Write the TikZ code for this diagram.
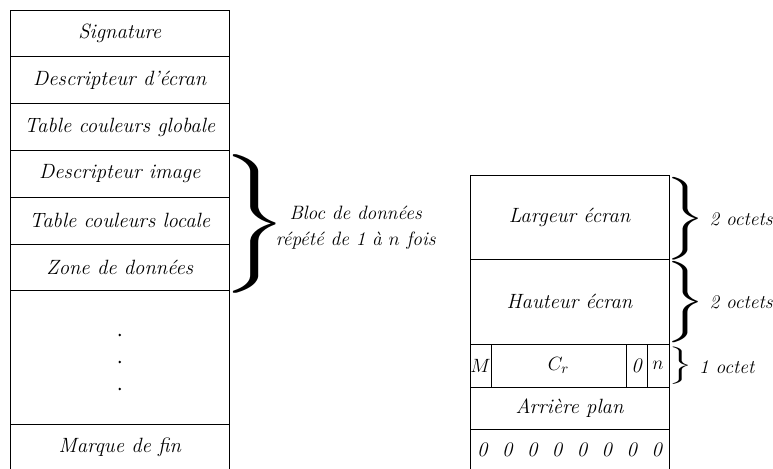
\documentclass[tikz,border=0pt]{standalone}
\usepackage{amsmath}
\usepackage{fontspec}
\usepackage{graphicx}
\usepackage{tikz}
\usetikzlibrary{positioning}
\usetikzlibrary{calc}

\begin{document}
\begin{tikzpicture}[
            x = 0.75pt, y = -0.75pt, % one unit = one pixel
            node distance = 0pt, % fields touch each other
            semithick % line style
        ]

        \tikzstyle{champ}=[
            draw,
            inner sep = 0pt,
            outer sep = 0pt,
            minimum width = 164.6pt,
            minimum height = 35.1pt,
            font = \fontsize{15.5}{19}\selectfont\itshape
        ]
        \tikzstyle{accolade}=[inner sep = 0pt, anchor = west]
        \tikzstyle{legende}=[inner sep = 0pt, anchor = west, align = center,
            font = \fontsize{14.5}{19.5}\selectfont\itshape]

        \useasboundingbox (0,0) rectangle (773,468);

        % file level
        \node[champ] (sig) at (119.75,33.4) {Signature};
        \node[champ] (desc) [below=of sig] {Descripteur d'écran};
        \node[champ] (tglob) [below=of desc] {Table couleurs globale};
        \node[champ] (dimg) [below=of tglob] {Descripteur image};
        \node[champ] (tloc) [below=of dimg] {Table couleurs locale};
        \node[champ] (zone) [below=of tloc] {Zone de données};
        \node[champ, minimum height = 99.9pt] (suite) [below=of zone] {};
        \node[champ] (fin) [below=of suite] {Marque de fin};

        \foreach \k in {-1,0,1}
            \fill ($(suite.center)+(0,{4.5+27*\k})$) circle (1.4);

        \node[accolade] (acc) at ($(dimg.north east)!0.5!(zone.south east)+(-8,3)$)
            {\resizebox*{49.8pt}{104pt}{$\Bigg\}$}};
        \node[legende, anchor = center] (bloc) at ($(acc.east)+(67,4)$)
            {Bloc de données\\répété de 1 à $n$ fois};

        % screen descriptor
        \node[champ, minimum width = 149.25pt, minimum height = 63pt] (larg) at (569.5,217) {Largeur écran};
        \node[champ, minimum width = 149.25pt, minimum height = 63.75pt] (haut) [below=of larg] {Hauteur écran};

        \node[champ, minimum width = 15.75pt, minimum height = 32.25pt, anchor = north west] (bitM) at (haut.south west) {$M$};
        \node[champ, minimum width = 101.25pt, minimum height = 32.25pt] (bitC) [right=of bitM] {$C_r$};
        \node[champ, minimum width = 15.75pt, minimum height = 32.25pt] (bitZ) [right=of bitC] {0};
        \node[champ, minimum width = 16.5pt, minimum height = 32.25pt] (bitN) [right=of bitZ] {$n$};

        \node[champ, minimum width = 149.25pt, minimum height = 31.5pt, anchor = north west] (fond) at (bitM.south west) {Arrière plan};
        \node[champ, minimum width = 149.25pt, minimum height = 31.5pt] (res) [below=of fond] {};
        \foreach \i in {0,...,7}
            \node[font = \fontsize{15.5}{19}\selectfont\itshape] (z\i) at ($(res.west)+({12.4+24.9*\i},0)$) {0};

        \node[accolade] (accL) at ($(larg.east)+(-3.5,2)$) {\resizebox*{30pt}{62pt}{$\Bigg\}$}};
        \node[accolade] (accH) at ($(haut.east)+(-3.5,1)$) {\resizebox*{30pt}{61pt}{$\Bigg\}$}};
        \node[accolade] (accB) at ($(bitN.east)+(-1,0)$) {\resizebox*{18pt}{28pt}{$\Bigg\}$}};

        \node[legende] (octL) at ($(accL.east)+(3,0)$) {2 octets};
        \node[legende] (octH) at ($(accH.east)+(3,0)$) {2 octets};
        \node[legende] (octB) at ($(accB.east)+(6,2)$) {1 octet};

  \end{tikzpicture}
\end{document}
